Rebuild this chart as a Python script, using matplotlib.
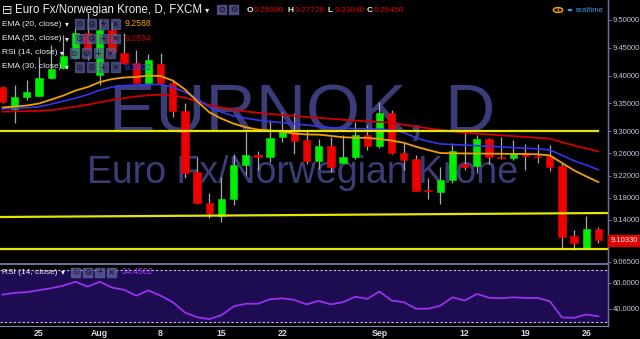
import numpy as np
import pandas as pd
import matplotlib
matplotlib.use('Agg')
import matplotlib.pyplot as plt
from matplotlib.patches import Rectangle, Circle

# ---------------- data ----------------
dates = pd.bdate_range('2016-07-20', '2016-09-27')
tick_dates = ['2016-07-25', '2016-08-01', '2016-08-08', '2016-08-15', '2016-08-22',
              '2016-09-01', '2016-09-12', '2016-09-19', '2016-09-26']
tick_labels = ['25', 'Aug', '8', '15', '22', 'Sep', '12', '19', '26']

opens = [9.380, 9.339, 9.361, 9.363, 9.395, 9.413, 9.432, 9.476, 9.401, 9.482,
         9.440, 9.422, 9.386, 9.421, 9.386, 9.336, 9.226, 9.170, 9.148, 9.177,
         9.239, 9.257, 9.254, 9.290, 9.299, 9.284, 9.246, 9.273, 9.243, 9.254,
         9.293, 9.273, 9.332, 9.261, 9.250, 9.194, 9.191, 9.212, 9.241, 9.237,
         9.285, 9.254, 9.251, 9.2599, 9.256, 9.255, 9.238, 9.111, 9.089, 9.123]
highs = [9.382, 9.383, 9.392, 9.434, 9.455, 9.473, 9.485, 9.513, 9.500, 9.496,
         9.476, 9.446, 9.439, 9.441, 9.390, 9.351, 9.253, 9.188, 9.218, 9.259,
         9.299, 9.264, 9.320, 9.335, 9.332, 9.302, 9.285, 9.289, 9.293, 9.316,
         9.311, 9.353, 9.338, 9.279, 9.257, 9.215, 9.236, 9.278, 9.299, 9.293,
         9.288, 9.290, 9.284, 9.27726, 9.276, 9.275, 9.242, 9.122, 9.147, 9.128]
lows = [9.350, 9.314, 9.356, 9.363, 9.394, 9.412, 9.430, 9.428, 9.383, 9.437,
        9.420, 9.386, 9.386, 9.386, 9.326, 9.216, 9.169, 9.143, 9.136, 9.167,
        9.221, 9.230, 9.245, 9.281, 9.259, 9.240, 9.231, 9.227, 9.243, 9.249,
        9.266, 9.270, 9.258, 9.230, 9.192, 9.177, 9.168, 9.206, 9.230, 9.225,
        9.240, 9.250, 9.248, 9.2304, 9.243, 9.229, 9.087, 9.086, 9.089, 9.098]
closes = [9.353, 9.361, 9.371, 9.395, 9.411, 9.435, 9.476, 9.444, 9.482, 9.443,
          9.422, 9.386, 9.428, 9.386, 9.336, 9.225, 9.170, 9.152, 9.178, 9.239,
          9.257, 9.254, 9.287, 9.299, 9.282, 9.246, 9.273, 9.236, 9.254, 9.293,
          9.273, 9.332, 9.261, 9.248, 9.193, 9.192, 9.212, 9.265, 9.236, 9.285,
          9.253, 9.252, 9.260, 9.2545, 9.254, 9.236, 9.110, 9.099, 9.123, 9.1033]

ema20 = [9.3425, 9.3443, 9.3460, 9.3497, 9.3568, 9.3640, 9.3730, 9.3793, 9.3883, 9.3937,
         9.3965, 9.3975, 9.4000, 9.3990, 9.3910, 9.3750, 9.3540, 9.3340, 9.3225, 9.3135,
         9.3070, 9.3027, 9.3010, 9.2990, 9.2955, 9.2940, 9.2937, 9.2914, 9.2890, 9.2880,
         9.2880, 9.2856, 9.2830, 9.2790, 9.2720, 9.2660, 9.2605, 9.2600, 9.2598, 9.2596,
         9.2594, 9.2592, 9.2590, 9.2588, 9.2583, 9.2562, 9.2428, 9.2293, 9.2185, 9.2082]
ema30 = [9.3400, 9.3410, 9.3420, 9.3440, 9.3485, 9.3540, 9.3594, 9.3657, 9.3738, 9.3792,
         9.3820, 9.3828, 9.3837, 9.3841, 9.3792, 9.3702, 9.3585, 9.3432, 9.3342, 9.3270,
         9.3234, 9.3198, 9.3171, 9.3153, 9.3130, 9.3108, 9.3090, 9.3063, 9.3054, 9.3045,
         9.3041, 9.3036, 9.3018, 9.2975, 9.2880, 9.2815, 9.2770, 9.2758, 9.2748, 9.2738,
         9.2728, 9.2716, 9.2704, 9.2692, 9.2682, 9.2661, 9.2565, 9.2465, 9.2390, 9.2305]
ema55 = [9.3350, 9.3355, 9.3360, 9.3365, 9.3375, 9.3410, 9.3440, 9.3475, 9.3520, 9.3560,
         9.3595, 9.3625, 9.3645, 9.3655, 9.3645, 9.3600, 9.3540, 9.3470, 9.3420, 9.3385,
         9.3355, 9.3330, 9.3310, 9.3290, 9.3275, 9.3255, 9.3240, 9.3220, 9.3205, 9.3190,
         9.3175, 9.3165, 9.3150, 9.3115, 9.3080, 9.3050, 9.3020, 9.2995, 9.2970, 9.2955,
         9.2940, 9.2925, 9.2910, 9.2894, 9.2880, 9.2865, 9.2800, 9.2740, 9.2688, 9.2635]
rsi = [50.9, 52.3, 52.8, 54.3, 55.8, 57.8, 60.7, 57.0, 60.7, 56.3,
       54.6, 50.1, 54.1, 50.1, 45.2, 37.3, 33.8, 32.3, 35.3, 42.0,
       44.0, 44.0, 47.4, 48.1, 46.9, 43.5, 46.2, 43.5, 45.2, 49.4,
       47.7, 53.3, 46.4, 45.2, 40.2, 40.2, 42.5, 48.9, 46.4, 51.4,
       48.6, 48.1, 48.9, 48.4, 48.4, 45.9, 33.6, 33.3, 35.8, 34.4502]

# drawn horizontal / trend lines: (start level, end level)
line_top = (9.3010, 9.3010)
line_mid = (9.1454, 9.1526)
line_bot = (9.0887, 9.0887)

price_ticks = [9.5, 9.45, 9.4, 9.35, 9.3, 9.26, 9.22, 9.18, 9.14, 9.065]
rsi_ticks = [60, 40]
last_price = 9.10330
header_vals = ['9.25990', '9.27726', '9.23040', '9.25450']
legend_vals = ['9.2588', '9.2894', '9.2692']
rsi_val = '34.4502'

# ---------------- figure ----------------
W, H = 640, 339
fig = plt.figure(figsize=(6.4, 3.39), dpi=100, facecolor='black')
FONT = ['Liberation Sans', 'DejaVu Sans']
SYM = ['DejaVu Sans', 'Noto Sans CJK JP']
AX_COL = '#6e6ea8'
AX_FS = 5.5

def fx(x):
    return x / W

def fy(y):
    return 1 - y / H

x = np.arange(len(dates))
x_lo, x_hi = -0.207, 49.79

ax = fig.add_axes([0, fy(264), fx(608), 264 / H])
ax.set_facecolor('black')
ax.set_xlim(x_lo, x_hi)
ax.set_ylim(9.0608, 9.5360)

# watermark
ax.text(0.497, 0.50, 'EURNOK, D', transform=ax.transAxes, ha='center', va='baseline',
        fontsize=50, color='#3b3c78', family=FONT, zorder=0)
ax.text(0.497, 0.307, 'Euro Fx/Norwegian Krone', transform=ax.transAxes, ha='center',
        va='baseline', fontsize=27, color='#3b3c78', family=FONT, zorder=0)

# candles
o = np.array(opens); c = np.array(closes)
up = c >= o
cols = np.where(up, '#00ee00', '#ee0000')
ax.vlines(x, lows, highs, color='#a8a8a8', lw=0.9, zorder=2)
bottoms = np.minimum(o, c)
heights = np.maximum(np.abs(c - o), 0.0012)
ax.bar(x, heights, bottom=bottoms, width=0.6, color=cols, edgecolor=cols, lw=0.4, zorder=3)

# EMAs
ax.plot(x, ema55, color='#d00000', lw=1.3, zorder=4)
ax.plot(x, ema30, color='#3535f0', lw=1.2, zorder=4)
ax.plot(x, ema20, color='#f0a000', lw=1.3, zorder=4)

# drawn lines
ax.plot([x_lo, 49.0], line_top, color='#e6e600', lw=1.6, zorder=5)
ax.plot([x_lo, x_hi], line_mid, color='#e6e600', lw=1.6, zorder=5)
ax.plot([x_lo, x_hi], line_bot, color='#e6e600', lw=1.6, zorder=5)

ax.yaxis.tick_right()
ax.set_yticks(price_ticks)
ax.set_yticklabels([f'{v:.5f}' for v in price_ticks])
ax.tick_params(axis='y', colors=AX_COL, length=2.5, width=0.8, pad=1,
               labelsize=AX_FS, labelcolor='#c8c8dc')
ax.set_xticks([])
for s in ['top', 'left']:
    ax.spines[s].set_visible(False)
ax.spines['right'].set_color(AX_COL)
ax.spines['bottom'].set_color('#8484b8')
ax.spines['bottom'].set_linewidth(1.2)
for lab in ax.get_yticklabels():
    lab.set_family(FONT)

# ---------------- RSI pane ----------------
ar = fig.add_axes([0, fy(326), fx(608), 61 / H])
ar.set_facecolor('black')
ar.set_xlim(x_lo, x_hi)
ar.set_ylim(27.07, 73.46)
ar.axhspan(30, 70, color='#1d0c52', zorder=0)
ar.axhline(70, color='#c4c4d4', lw=0.8, ls=(0, (2, 2)), zorder=1)
ar.axhline(30, color='#c4c4d4', lw=0.8, ls=(0, (2, 2)), zorder=1)
ar.plot(x, rsi, color='#9a30f0', lw=1.3, zorder=3)
ar.yaxis.tick_right()
ar.set_yticks(rsi_ticks)
ar.set_yticklabels([f'{v:.4f}' for v in rsi_ticks])
ar.tick_params(axis='y', colors=AX_COL, length=2.5, width=0.8, pad=1,
               labelsize=AX_FS, labelcolor='#c8c8dc')
pos = [int(np.where(dates == pd.Timestamp(d))[0][0]) for d in tick_dates]
ar.set_xticks(pos)
ar.set_xticklabels(tick_labels)
ar.tick_params(axis='x', length=0, pad=2.5, labelsize=6.3, labelcolor='#d8d8e8')
for lab in ar.get_xticklabels() + ar.get_yticklabels():
    lab.set_family(FONT)
for lab in ar.get_xticklabels():
    lab.set_fontweight('bold')
ar.spines['top'].set_visible(False)
ar.spines['left'].set_visible(False)
ar.spines['right'].set_color(AX_COL)
ar.spines['bottom'].set_color('#8484b8')

# right axis full-height line
fig.add_artist(plt.Line2D([fx(608), fx(608)], [fy(0), fy(326)], transform=fig.transFigure,
                          color=AX_COL, lw=1))

# last price tag
fig.add_artist(Rectangle((fx(608), fy(246)), fx(32), 11 / H, transform=fig.transFigure,
                         color='#e00000', zorder=10))
fig.text(fx(611), fy(240.5), f'{last_price:.5f}', color='white', fontsize=AX_FS,
         va='center', ha='left', family=FONT, zorder=11)

# ---------------- header ----------------
fig.text(fx(2), fy(10), '\u229f', color='#e0e0ea', fontsize=9, va='center', family=SYM)
fig.text(fx(15), fy(10), 'Euro Fx/Norwegian Krone, D, FXCM', color='#eeeef4',
         fontsize=8.3, va='center', family=FONT)
fig.text(fx(205), fy(10), '\u25be', color='#eeeef4', fontsize=6, va='center', family=SYM)

def icon_box(x0, y0, w=9, h=9, sym=None, col='#5a5a96', alpha=0.8):
    fig.add_artist(Rectangle((fx(x0), fy(y0 + h)), fx(w), h / H, transform=fig.transFigure,
                             color=col, alpha=alpha, zorder=12))
    if sym:
        fig.text(fx(x0 + w / 2), fy(y0 + h / 2), sym, color='#121228', fontsize=6,
                 ha='center', va='center', family=SYM, zorder=13)

icon_box(217, 5, sym='\u2299')
icon_box(229, 5, sym='\u2699')

hx = [247, 288, 328, 367]
for letter, xv, val in zip(['O', 'H', 'L', 'C'], hx, header_vals):
    fig.text(fx(xv), fy(10), letter, color='#f0f0f0', fontsize=6, fontweight='bold',
             va='center', family=FONT)
    fig.text(fx(xv + 7), fy(10), val, color='#e00000', fontsize=6, va='center',
             family=FONT)

fig.add_artist(Circle((fx(558), fy(10)), 4.6 / W, transform=fig.transFigure,
                      facecolor='none', edgecolor='#f0a000', lw=1.1))
fig.text(fx(558), fy(10), '!', color='#f0a000', fontsize=5.5, ha='center', va='center',
         fontweight='bold', family=FONT)
fig.add_artist(Circle((fx(570), fy(10)), 2.4 / W, transform=fig.transFigure,
                      facecolor='#3d9be9', edgecolor='none'))
fig.text(fx(575), fy(10), 'realtime', color='#3d9be9', fontsize=5.6, va='center',
         family=FONT)

# ---------------- study legends ----------------
rows = [('EMA (20, close)', 24, legend_vals[0], '#f0a000', 75),
        ('EMA (55, close)', 38.5, legend_vals[1], '#c00000', 75),
        ('RSI (14, close)', 53, None, None, 70),
        ('EMA (30, close)', 67, legend_vals[2], '#3a3aff', 75)]
syms = ['\u2299', '\u2699', '+', '\u2715']
for name, yc, val, vcol, bx in rows:
    fig.text(fx(2), fy(yc), name, color='#ececf4', fontsize=6.0, va='center',
             family=FONT, zorder=12)
    fig.text(fx(bx - 10), fy(yc), '\u25be', color='#ececf4', fontsize=5.5, va='center',
             family=SYM, zorder=12)
    for k in range(4):
        icon_box(bx + 12 * k - 0.5, yc - 4.5, sym=syms[k], alpha=0.7)
    if val:
        fig.text(fx(125), fy(yc), val, color=vcol, fontsize=6.3, va='center',
                 family=FONT, zorder=12)

fig.text(fx(2), fy(272), 'RSI (14, close)', color='#ececf4', fontsize=6.0, va='center',
         family=FONT, zorder=12)
fig.text(fx(61), fy(272), '\u25be', color='#ececf4', fontsize=5.5, va='center',
         family=SYM, zorder=12)
for k in range(4):
    icon_box(71 + 12 * k, 267.5, sym=syms[k], alpha=0.85)
fig.text(fx(122), fy(272), rsi_val, color='#a040ff', fontsize=6.3, va='center',
         family=FONT, zorder=12)

fig.savefig('out.png', dpi=100, facecolor='black')
